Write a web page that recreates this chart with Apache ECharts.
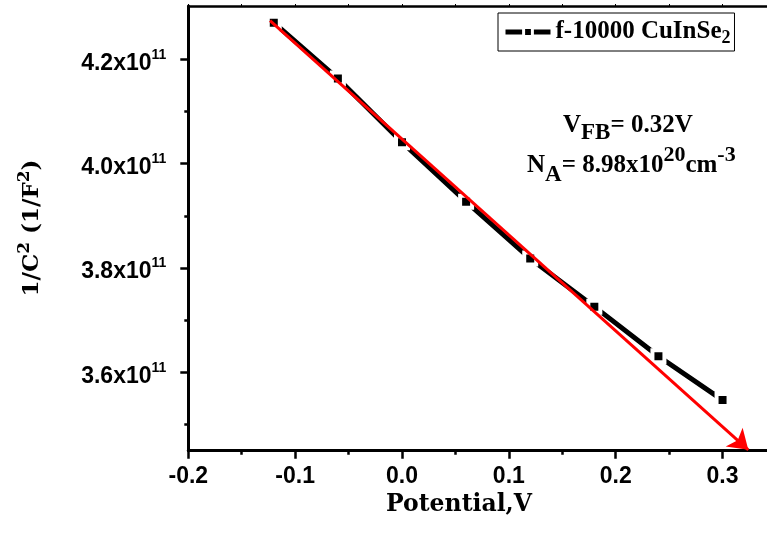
<!DOCTYPE html>
<html>
<head>
<meta charset="utf-8">
<script src="https://cdn.jsdelivr.net/npm/echarts@6/dist/echarts.min.js"></script>
<style>html,body{margin:0;padding:0;background:#fff}#c{width:767px;height:536px}</style>
</head>
<body>
<div id="c"></div>
<script>
// ---- data ----
const potential = [-0.12, -0.06, 0.00, 0.06, 0.12, 0.18, 0.24, 0.30];
const invC2 = [4.270e11, 4.163e11, 4.041e11, 3.927e11, 3.818e11, 3.726e11, 3.631e11, 3.547e11];
const fitX = [-0.1235, 0.3241];
const fitY = [4.274e11, 3.4517e11];
const xTickValues = [-0.2, -0.1, 0.0, 0.1, 0.2, 0.3];
const xTickLabels = ['-0.2', '-0.1', '0.0', '0.1', '0.2', '0.3'];
const xMinorValues = [-0.15, -0.05, 0.05, 0.15, 0.25];
const yTickValues = [3.6e11, 3.8e11, 4.0e11, 4.2e11];
const yTickLabels = ['3.6', '3.8', '4.0', '4.2'];
const yMinorValues = [3.5e11, 3.7e11, 3.9e11, 4.1e11];
const seriesName = 'f-10000 CuInSe2';

const X_MIN = -0.2, X_MAX = 0.3416, Y_MIN = 3.45e11, Y_MAX = 4.302e11;
const SANS = 'Liberation Sans', SERIF = 'Liberation Serif', SERIF2 = 'DejaVu Serif';

const chart = echarts.init(document.getElementById('c'), null, {renderer: 'canvas'});

function labelFor(values, labels, v) {
  for (let i = 0; i < values.length; i++) if (Math.abs(values[i] - v) < Math.abs(values[1]-values[0]) * 0.01) return labels[i];
  return '';
}

const baseX = {type: 'value', min: X_MIN, max: X_MAX, splitLine: {show: false}, gridIndex: 0};
const baseY = {type: 'value', min: Y_MIN, max: Y_MAX, splitLine: {show: false}, gridIndex: 0};

const option = {
  animation: false,
  grid: {left: 188.3, right: 0, top: 6, bottom: 85.3, containLabel: false},
  legend: {
    data: [seriesName],
    left: 498, top: 13,
    padding: [4, 4, 4, 5],
    itemWidth: 45, itemHeight: 11, itemGap: 6,
    borderColor: '#000', borderWidth: 1,
    selectedMode: false,
    lineStyle: {width: 5, color: '#000'},
    itemStyle: {color: '#000', borderColor: '#fff', borderWidth: 3},
    formatter: () => '{m|f-10000 CuInSe}{s|2}',
    textStyle: {
      rich: {
        m: {fontFamily: SERIF, fontWeight: 'bold', fontSize: 25, color: '#000', lineHeight: 28},
        s: {fontFamily: SERIF, fontWeight: 'bold', fontSize: 18, color: '#000', lineHeight: 28, padding: [12, 0, 0, 0]}
      }
    }
  },
  xAxis: [
    Object.assign({}, baseX, {
      position: 'bottom',
      axisLine: {show: true, onZero: false, lineStyle: {color: '#000', width: 3}},
      axisTick: {show: true, length: 8, lineStyle: {color: '#000', width: 2.5}, customValues: xTickValues},
      axisLabel: {
        show: true, margin: 14, customValues: xTickValues,
        formatter: v => labelFor(xTickValues, xTickLabels, v),
        fontFamily: SANS, fontWeight: 'bold', fontSize: 23, color: '#000'
      }
    }),
    Object.assign({}, baseX, {
      position: 'bottom',
      axisLine: {show: false, onZero: false},
      axisTick: {show: true, length: 4, lineStyle: {color: '#000', width: 2.5}, customValues: xMinorValues},
      axisLabel: {show: false}
    }),
    Object.assign({}, baseX, {
      position: 'top',
      axisLine: {show: true, onZero: false, lineStyle: {color: '#000', width: 2.5}},
      axisTick: {show: true, length: 2, lineStyle: {color: '#000', width: 1}, customValues: xTickValues.concat(xMinorValues)},
      axisLabel: {show: false}
    })
  ],
  yAxis: [
    Object.assign({}, baseY, {
      position: 'left',
      axisLine: {show: true, onZero: false, lineStyle: {color: '#000', width: 3}},
      axisTick: {show: true, length: 8, lineStyle: {color: '#000', width: 2.5}, customValues: yTickValues},
      axisLabel: {
        show: true, margin: 22, customValues: yTickValues,
        formatter: v => '{m|' + labelFor(yTickValues, yTickLabels, v) + 'x10}{s|11}',
        rich: {
          m: {fontFamily: SANS, fontWeight: 'bold', fontSize: 23, color: '#000', lineHeight: 26, padding: [8, 0, 0, 0]},
          s: {fontFamily: SANS, fontWeight: 'bold', fontSize: 14, color: '#000', lineHeight: 26, padding: [0, 0, 9, 0]}
        }
      }
    }),
    Object.assign({}, baseY, {
      position: 'left',
      axisLine: {show: false, onZero: false},
      axisTick: {show: true, length: 4, lineStyle: {color: '#000', width: 2.5}, customValues: yMinorValues},
      axisLabel: {show: false}
    })
  ],
  series: [
    {
      name: seriesName,
      type: 'line',
      xAxisIndex: 0, yAxisIndex: 0,
      data: potential.map((x, i) => [x, invC2[i]]),
      symbol: 'rect', symbolSize: 12,
      itemStyle: {color: '#000', borderColor: '#fff', borderWidth: 4},
      lineStyle: {color: '#000', width: 5},
      z: 2, silent: true
    },
    {
      name: 'fit',
      type: 'line',
      xAxisIndex: 0, yAxisIndex: 0,
      data: [],
      z: 5, silent: true,
      markLine: {
        silent: true, animation: false,
        symbol: ['none', 'arrow'], symbolSize: 19,
        label: {show: false},
        lineStyle: {color: '#ff0000', width: 3, type: 'solid'},
        itemStyle: {color: '#ff0000'},
        emphasis: {disabled: true},
        data: [[{coord: [fitX[0], fitY[0]]}, {coord: [fitX[1], fitY[1]]}]]
      }
    }
  ],
  graphic: [
    {
      type: 'text', left: 563, top: 106, silent: true,
      style: {
        text: '{m|V}{b|FB}{m|= 0.32V}',
        rich: {
          m: {fontFamily: SERIF, fontWeight: 'bold', fontSize: 25, fill: '#000', lineHeight: 28},
          b: {fontFamily: SERIF, fontWeight: 'bold', fontSize: 23, fill: '#000', lineHeight: 28, padding: [16, 0, 0, 0]}
        }
      }
    },
    {
      type: 'text', left: 527, top: 144, silent: true,
      style: {
        text: '{m|N}{b|A}{m|= 8.98x10}{p|20}{m|cm}{p|-3}',
        rich: {
          m: {fontFamily: SERIF, fontWeight: 'bold', fontSize: 25, fill: '#000', lineHeight: 28},
          b: {fontFamily: SERIF, fontWeight: 'bold', fontSize: 23, fill: '#000', lineHeight: 28, padding: [20, 0, 0, 0]},
          p: {fontFamily: SERIF, fontWeight: 'bold', fontSize: 22, fill: '#000', lineHeight: 28, padding: [0, 0, 20, 0]}
        }
      }
    },
    {
      type: 'text', x: 459, y: 505, silent: true,
      style: {
        text: 'Potential,V', align: 'center', verticalAlign: 'middle',
        font: 'bold 23.5px "DejaVu Serif"', fill: '#000'
      }
    },
    {
      type: 'text', x: 32, y: 228, rotation: Math.PI / 2, silent: true,
      style: {
        text: '{m|1/C}{p|2}{m| (1/F}{p|2}{m|)}', align: 'center', verticalAlign: 'middle',
        rich: {
          m: {fontFamily: SERIF2, fontWeight: 'bold', fontSize: 23, fill: '#000', lineHeight: 28},
          p: {fontFamily: SERIF2, fontWeight: 'bold', fontSize: 17, fill: '#000', lineHeight: 28, padding: [0, 0, 14, 0]}
        }
      }
    }
  ]
};
chart.setOption(option);
</script>
</body>
</html>
